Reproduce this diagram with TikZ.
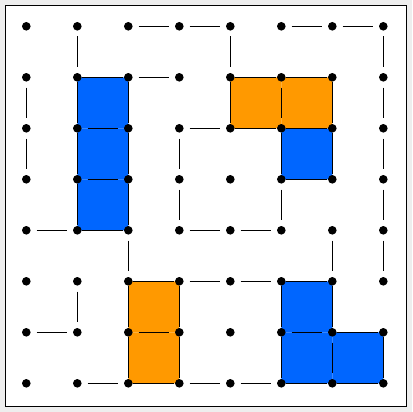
\documentclass[tikz,border=0pt]{standalone}
\usepackage{tikz}
\definecolor{bggray}{HTML}{EEEEEE}
\definecolor{cellblue}{HTML}{0066FF}
\definecolor{cellorange}{HTML}{FF9900}
\begin{document}
\begin{tikzpicture}[x=1pt,y=1pt,
  dotnode/.style={circle,fill=black,inner sep=0pt,minimum size=8.6pt},
  wall/.style={line width=1.5pt,shorten >=5.7pt,shorten <=5.7pt},
  rim/.style={line width=1.5pt,shorten >=0.5pt,shorten <=0.5pt},
  bluecell/.style={fill=cellblue,rounded corners=4pt},
  orangecell/.style={fill=cellorange,rounded corners=4pt}]
\fill[bggray] (0,0) rectangle (412,-412);
\useasboundingbox (0,0) rectangle (412,-412);
\draw[fill=white,line width=1pt] (5.3,-5.3) rectangle (406.3,-406.3);
% grid points
\foreach \c in {0,...,7}{
  \foreach \r in {0,...,7}{
    \coordinate (p-\c-\r) at ({26.3+51*\c},{-(26.3+51*\r)});
  }
}
% coloured cells
\foreach \c/\r in {1/1,1/2,1/3,5/2,5/5,5/6,6/6}{
  \pgfmathtruncatemacro{\cc}{\c+1}
  \pgfmathtruncatemacro{\rr}{\r+1}
  \fill[bluecell] (p-\c-\r) rectangle (p-\cc-\rr);
}
\foreach \c/\r in {4/1,5/1,2/5,2/6}{
  \pgfmathtruncatemacro{\cc}{\c+1}
  \pgfmathtruncatemacro{\rr}{\r+1}
  \fill[orangecell] (p-\c-\r) rectangle (p-\cc-\rr);
}
% dots
\foreach \c in {0,...,7}{
  \foreach \r in {0,...,7}{
    \node[dotnode] (d-\c-\r) at (p-\c-\r) {};
  }
}
% horizontal walls (gapped)
\foreach \r/\a/\b in {0/2/3,0/3/4,0/5/6,0/6/7,
                      1/2/3,
                      2/1/2,2/3/4,
                      3/1/2,
                      4/0/1,4/3/4,4/4/5,
                      5/3/4,5/4/5,
                      6/0/1,6/2/3,6/5/6,
                      7/1/2,7/3/4,7/4/5}{
  \draw[wall] (d-\a-\r) -- (d-\b-\r);
}
% vertical walls (gapped)
\foreach \c/\a/\b in {0/1/2,0/2/3,
                      1/0/1,1/5/6,
                      2/4/5,
                      3/2/3,3/3/4,
                      4/0/1,
                      5/1/2,5/3/4,
                      6/4/5,6/6/7,
                      7/0/1,7/1/2,7/2/3,7/3/4,7/4/5}{
  \draw[wall] (d-\c-\a) -- (d-\c-\b);
}
% piece outlines (horizontal)
\foreach \r/\a/\b in {1/1/2,1/4/5,1/5/6,
                      2/4/5,2/5/6,
                      3/5/6,
                      4/1/2,
                      5/2/3,5/5/6,
                      6/6/7,
                      7/2/3,7/5/6,7/6/7}{
  \draw[rim] (d-\a-\r) -- (d-\b-\r);
}
% piece outlines (vertical)
\foreach \c/\a/\b in {1/1/2,1/2/3,1/3/4,
                      2/1/2,2/2/3,2/3/4,2/5/6,2/6/7,
                      3/5/6,3/6/7,
                      4/1/2,
                      5/2/3,5/5/6,5/6/7,
                      6/1/2,6/2/3,6/5/6,
                      7/6/7}{
  \draw[rim] (d-\c-\a) -- (d-\c-\b);
}
\end{tikzpicture}
\end{document}
